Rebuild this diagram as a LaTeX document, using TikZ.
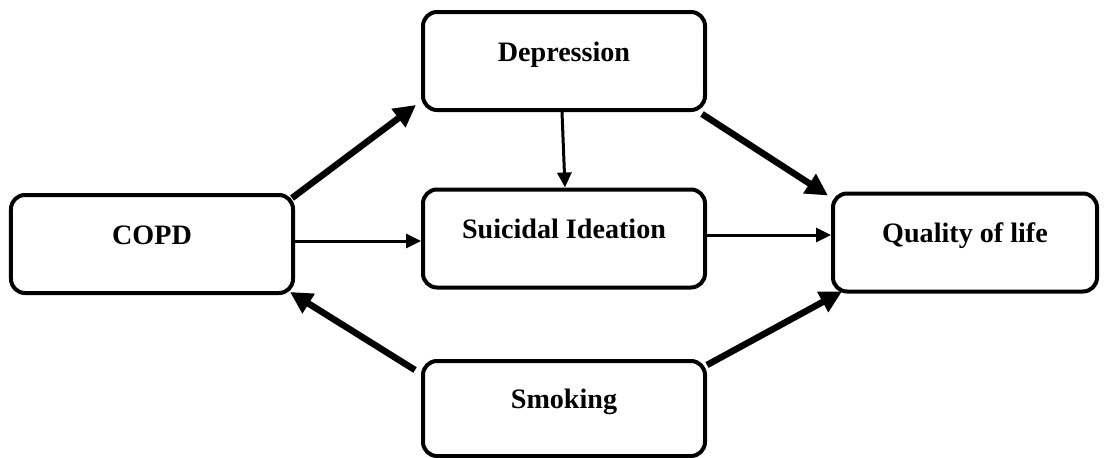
\documentclass[tikz,border=0pt]{standalone}
\usepackage{fontspec}
\setmainfont{Liberation Serif}
\usetikzlibrary{arrows.meta}

\tikzset{
  box/.style={draw, line width=0.08cm, rounded corners=0.28cm, minimum width=5.64cm,
    minimum height=1.96cm, inner sep=0pt, text height=0.4cm, text depth=0.4cm,
    font=\bfseries\fontsize{16}{18}\selectfont},
  thickarrow/.style={line width=0.13cm, -{Triangle[length=0.44cm,width=0.44cm]}},
  thinarrow/.style={line width=0.06cm, -{Triangle[length=0.3cm,width=0.28cm]}}
}

\begin{document}
\begin{tikzpicture}
\useasboundingbox (0,0) rectangle (22.1,9.14);

\node[box] (copd) at (3.04,4.26) {COPD};
\node[box] (dep) at (11.28,7.92) {Depression};
\node[box] (sui) at (11.28,4.37) {Suicidal Ideation};
\node[box, minimum width=5.28cm] (qol) at (19.3,4.29) {Quality of life};
\node[box, minimum height=1.9cm] (smok) at (11.28,0.97) {Smoking};

%paths from COPD
\draw[thickarrow] ([xshift=-0.06cm,yshift=-0.1cm]copd.north east) -- ([xshift=-0.1cm,yshift=0.14cm]dep.south west);
\draw[thinarrow] ([yshift=0.06cm]copd.east) -- ([yshift=0.06cm]copd.east -| sui.west);

%paths to quality of life
\draw[thinarrow] ([xshift=-0.04cm]dep.south) -- ([xshift=0.02cm]sui.north);
\draw[thickarrow] ([xshift=-0.1cm,yshift=-0.04cm]dep.south east) -- ([xshift=-0.06cm,yshift=-0.08cm]qol.north west);
\draw[thinarrow] ([yshift=0.07cm]sui.east) -- ([yshift=0.07cm]sui.east -| qol.west);

%smoking
\draw[thickarrow] ([xshift=-0.12cm,yshift=-0.22cm]smok.north west) -- ([xshift=-0.1cm,yshift=0.06cm]copd.south east);
\draw[thickarrow] ([yshift=-0.12cm]smok.north east) -- ([xshift=0.22cm,yshift=0.04cm]qol.south west);
\end{tikzpicture}
\end{document}
